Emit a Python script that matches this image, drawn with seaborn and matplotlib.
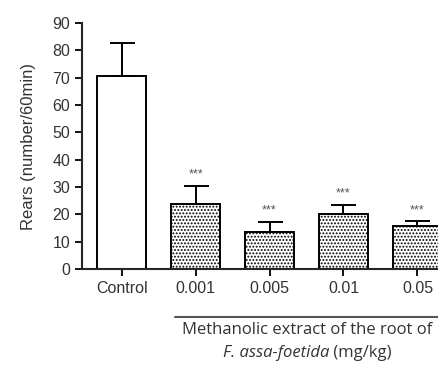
import matplotlib
matplotlib.use("Agg")
import matplotlib.pyplot as plt
import seaborn as sns
import pandas as pd

# data
groups = ["Control", "0.001", "0.005", "0.01", "0.05"]
rears_mean = [70.8, 23.8, 13.6, 20.1, 15.8]
rears_sem = [11.8, 6.7, 3.7, 3.3, 1.6]
signif = ["", "***", "***", "***", "***"]

df = pd.DataFrame({"group": groups, "mean": rears_mean, "sem": rears_sem})

sns.set_style("ticks")
plt.rcParams["font.family"] = ["Liberation Sans", "DejaVu Sans"]
plt.rcParams["hatch.linewidth"] = 0.9
plt.rcParams["hatch.color"] = "#333333"

fig = plt.figure(figsize=(4.39, 3.72), dpi=100)
ax = fig.add_axes([0.187, 0.277, 0.865, 0.661])

sns.barplot(data=df, x="group", y="mean", order=groups, color="white",
            edgecolor="black", linewidth=1.4, width=0.66, errorbar=None, ax=ax)

# fill the treated bars with a dotted pattern
for i, patch in enumerate(ax.patches):
    patch.set_facecolor("white")
    if i > 0:
        patch.set_hatch(".....")

# upper-only error bars
ax.errorbar(range(len(groups)), rears_mean, yerr=[[0] * len(groups), rears_sem],
            fmt="none", ecolor="black", elinewidth=1.4, capsize=9, capthick=1.4,
            zorder=1)

for i, s in enumerate(signif):
    if s:
        ax.text(i, rears_mean[i] + rears_sem[i] + 2.0, s, ha="center",
                va="bottom", fontsize=9, color="#555555")

ax.set_ylim(0, 90)
ax.set_xlim(-0.534, 4.6)
ax.set_yticks(range(0, 91, 10))
ax.set_xlabel("")
ax.set_ylabel("Rears (number/60min)", fontsize=12, color="#333333", labelpad=12)
ax.tick_params(axis="both", labelsize=11.5, colors="black", labelcolor="#333333",
               width=1.3, length=5)
for sp in ["left", "bottom"]:
    ax.spines[sp].set_linewidth(1.5)
sns.despine(ax=ax)

# group line and caption below the axis
fig.add_artist(plt.Line2D([175 / 439, 1.0], [1 - 316.5 / 372] * 2,
                          transform=fig.transFigure, color="#555555", lw=1.5))
cap_font = ["Open Sans", "DejaVu Sans"]
fig.text(307 / 439, 1 - 330 / 372, "Methanolic extract of the root of",
         ha="center", va="center", fontsize=12, color="#333333", family=cap_font)

# second caption line: italic species name followed by upright unit
part1 = fig.text(0, 1 - 353 / 372, "F. assa-foetida", ha="left", va="center",
                 fontsize=12, color="#333333", family=cap_font, style="italic")
part2 = fig.text(0, 1 - 353 / 372, " (mg/kg)", ha="left", va="center",
                 fontsize=12, color="#333333", family=cap_font)
renderer = fig.canvas.get_renderer()
w1 = part1.get_window_extent(renderer).width
w2 = part2.get_window_extent(renderer).width
x0 = 307 - (w1 + w2) / 2
part1.set_x(x0 / 439)
part2.set_x((x0 + w1) / 439)

fig.savefig("out.png", dpi=100)
